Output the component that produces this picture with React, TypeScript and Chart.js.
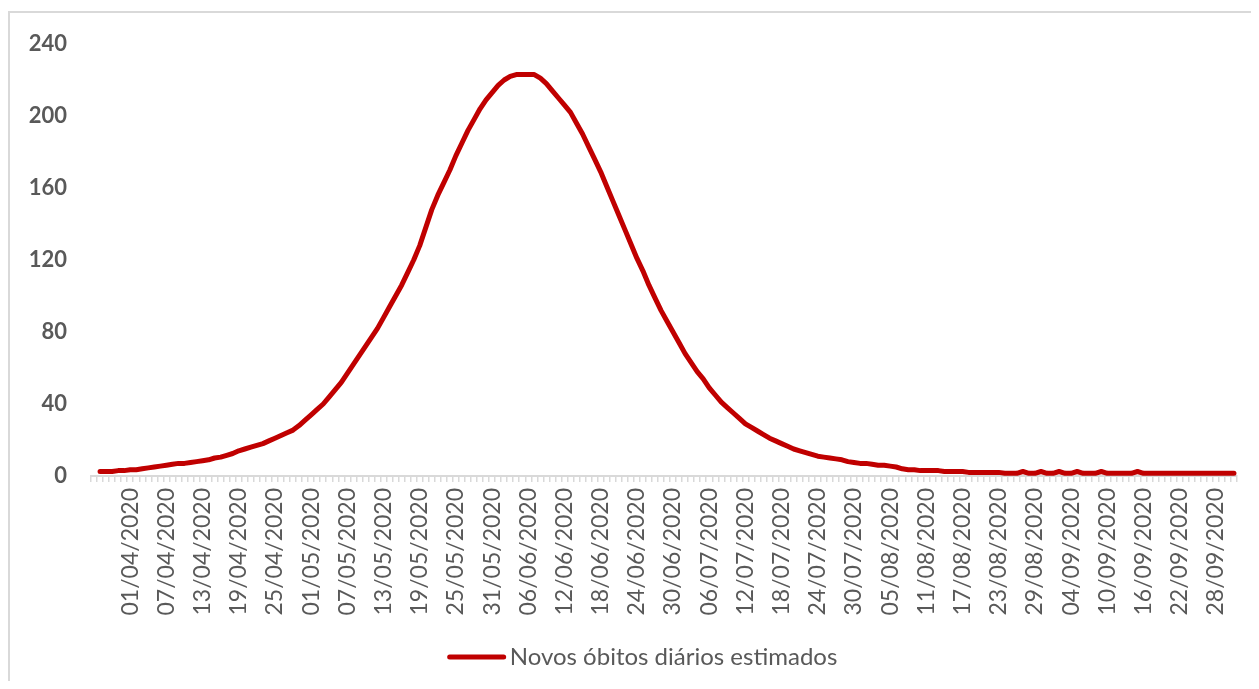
import React, { useEffect, useRef } from "react";
import { Chart, registerables } from "chart.js";

Chart.register(...registerables);

// Daily dates from 26/03/2020 to 01/10/2020
const startDate = new Date(2020, 2, 26);
const dayCount = 190;
const dates: string[] = [];
for (let i = 0; i < dayCount; i++) {
  const d = new Date(startDate.getFullYear(), startDate.getMonth(), startDate.getDate() + i);
  const dd = String(d.getDate()).padStart(2, "0");
  const mm = String(d.getMonth() + 1).padStart(2, "0");
  dates.push(`${dd}/${mm}/${d.getFullYear()}`);
}

// Estimated new daily deaths, one value per date (first date has no estimate)
const novosObitos: (number | null)[] = [
  null, 2.5, 2.5, 2.5, 3, 3, 3.5, 3.5, 4, 4.5,
  5, 5.5, 6, 6.5, 7, 7, 7.5, 8, 8.5, 9,
  10, 10.5, 11.5, 12.5, 14, 15, 16, 17, 18, 19.5,
  21, 22.5, 24, 25.5, 28, 31, 34, 37, 40, 44,
  48, 52, 57, 62, 67, 72, 77, 82, 88, 94,
  100, 106, 113, 120, 128, 138, 148, 156, 163, 170,
  178, 185, 192, 198, 204, 209, 213, 217, 220, 222,
  223, 223, 223, 223, 221, 218, 214, 210, 206, 202,
  196, 190, 183, 176, 169, 161, 153, 145, 137, 129,
  121, 114, 106, 99, 92, 86, 80, 74, 68, 63,
  58, 54, 49, 45, 41, 38, 35, 32, 29, 27,
  25, 23, 21, 19.5, 18, 16.5, 15, 14, 13, 12,
  11, 10.5, 10, 9.5, 9, 8, 7.5, 7, 7, 6.5,
  6, 6, 5.5, 5, 4, 3.5, 3.5, 3, 3, 3,
  3, 2.5, 2.5, 2.5, 2.5, 2, 2, 2, 2, 2,
  2, 1.5, 1.5, 1.5, 2.5, 1.5, 1.5, 2.5, 1.5, 1.5,
  2.5, 1.5, 1.5, 2.5, 1.5, 1.5, 1.5, 2.5, 1.5, 1.5,
  1.5, 1.5, 1.5, 2.5, 1.5, 1.5, 1.5, 1.5, 1.5, 1.5,
  1.5, 1.5, 1.5, 1.5, 1.5, 1.5, 1.5, 1.5, 1.5, 1.5,
];

const yTicks = [0, 40, 80, 120, 160, 200, 240];
const seriesLabel = "Novos óbitos diários estimados";
const labelEvery = 6;

const RED = "#C00000";
const GREY_TEXT = "#595959";
const GREY_LINE = "#D9D9D9";
const FONT = "Lato, 'Open Sans', sans-serif";

// Legend drawn under the axis labels: a thick red stroke followed by the series name
const bottomLegend = {
  id: "bottomLegend",
  afterDraw(chart: Chart) {
    const ctx = chart.ctx;
    ctx.save();
    ctx.font = `24px ${FONT}`;
    const textW = ctx.measureText(seriesLabel).width;
    const lineW = 58;
    const gap = 4;
    const total = lineW + gap + textW;
    const cx = chart.width / 2 + 12;
    const x0 = cx - total / 2;
    const y = 644;
    ctx.strokeStyle = RED;
    ctx.lineWidth = 5;
    ctx.lineCap = "round";
    ctx.beginPath();
    ctx.moveTo(x0 + 2, y);
    ctx.lineTo(x0 + lineW - 2, y);
    ctx.stroke();
    ctx.fillStyle = GREY_TEXT;
    ctx.textAlign = "left";
    ctx.textBaseline = "middle";
    ctx.fillText(seriesLabel, x0 + lineW + gap, y);
    ctx.restore();
  },
};

export default function App() {
  const canvasRef = useRef<HTMLCanvasElement | null>(null);

  useEffect(() => {
    if (!canvasRef.current) return;
    const chart = new Chart(canvasRef.current, {
      type: "line",
      data: {
        labels: dates,
        datasets: [
          {
            label: seriesLabel,
            data: novosObitos,
            borderColor: RED,
            backgroundColor: RED,
            borderWidth: 5,
            borderCapStyle: "round",
            borderJoinStyle: "round",
            pointRadius: 0,
            tension: 0,
            fill: false,
          },
        ],
      },
      options: {
        animation: false,
        responsive: true,
        maintainAspectRatio: false,
        layout: { padding: { left: 0, right: 14, top: 31, bottom: 0 } },
        plugins: {
          legend: { display: false },
          tooltip: { enabled: false },
        },
        scales: {
          x: {
            type: "category",
            offset: true,
            grid: {
              display: true,
              offset: true,
              drawOnChartArea: false,
              drawTicks: true,
              tickLength: 6,
              color: GREY_LINE,
              lineWidth: 1.5,
            },
            border: { display: true, color: GREY_LINE, width: 2 },
            ticks: {
              autoSkip: false,
              minRotation: 90,
              maxRotation: 90,
              padding: 6,
              color: GREY_TEXT,
              font: { family: FONT, size: 23 },
              callback: (_v: any, i: number) =>
                i > 0 && i % labelEvery === 0 ? dates[i] : "",
            },
            afterFit: (scale: any) => {
              scale.height = 205;
              scale.paddingLeft = 0;
              scale.paddingRight = 0;
            },
          },
          y: {
            min: 0,
            max: 240,
            afterBuildTicks: (scale: any) => {
              scale.ticks = yTicks.map((v) => ({ value: v }));
            },
            grid: { display: false, drawTicks: false },
            border: { display: false },
            ticks: {
              padding: 24,
              color: GREY_TEXT,
              font: { family: FONT, size: 22, weight: "bold" },
            },
            afterFit: (scale: any) => {
              scale.width = 81;
              scale.paddingTop = 0;
              scale.paddingBottom = 0;
            },
          },
        },
      },
      plugins: [bottomLegend],
    });
    return () => chart.destroy();
  }, []);

  return (
    <div style={{ paddingTop: 3 }}>
      <div
        style={{
          borderTop: `2px solid ${GREY_LINE}`,
          borderLeft: `2px solid ${GREY_LINE}`,
          height: 668,
          width: 1241,
          position: "relative",
        }}
      >
        <canvas ref={canvasRef} />
      </div>
    </div>
  );
}
